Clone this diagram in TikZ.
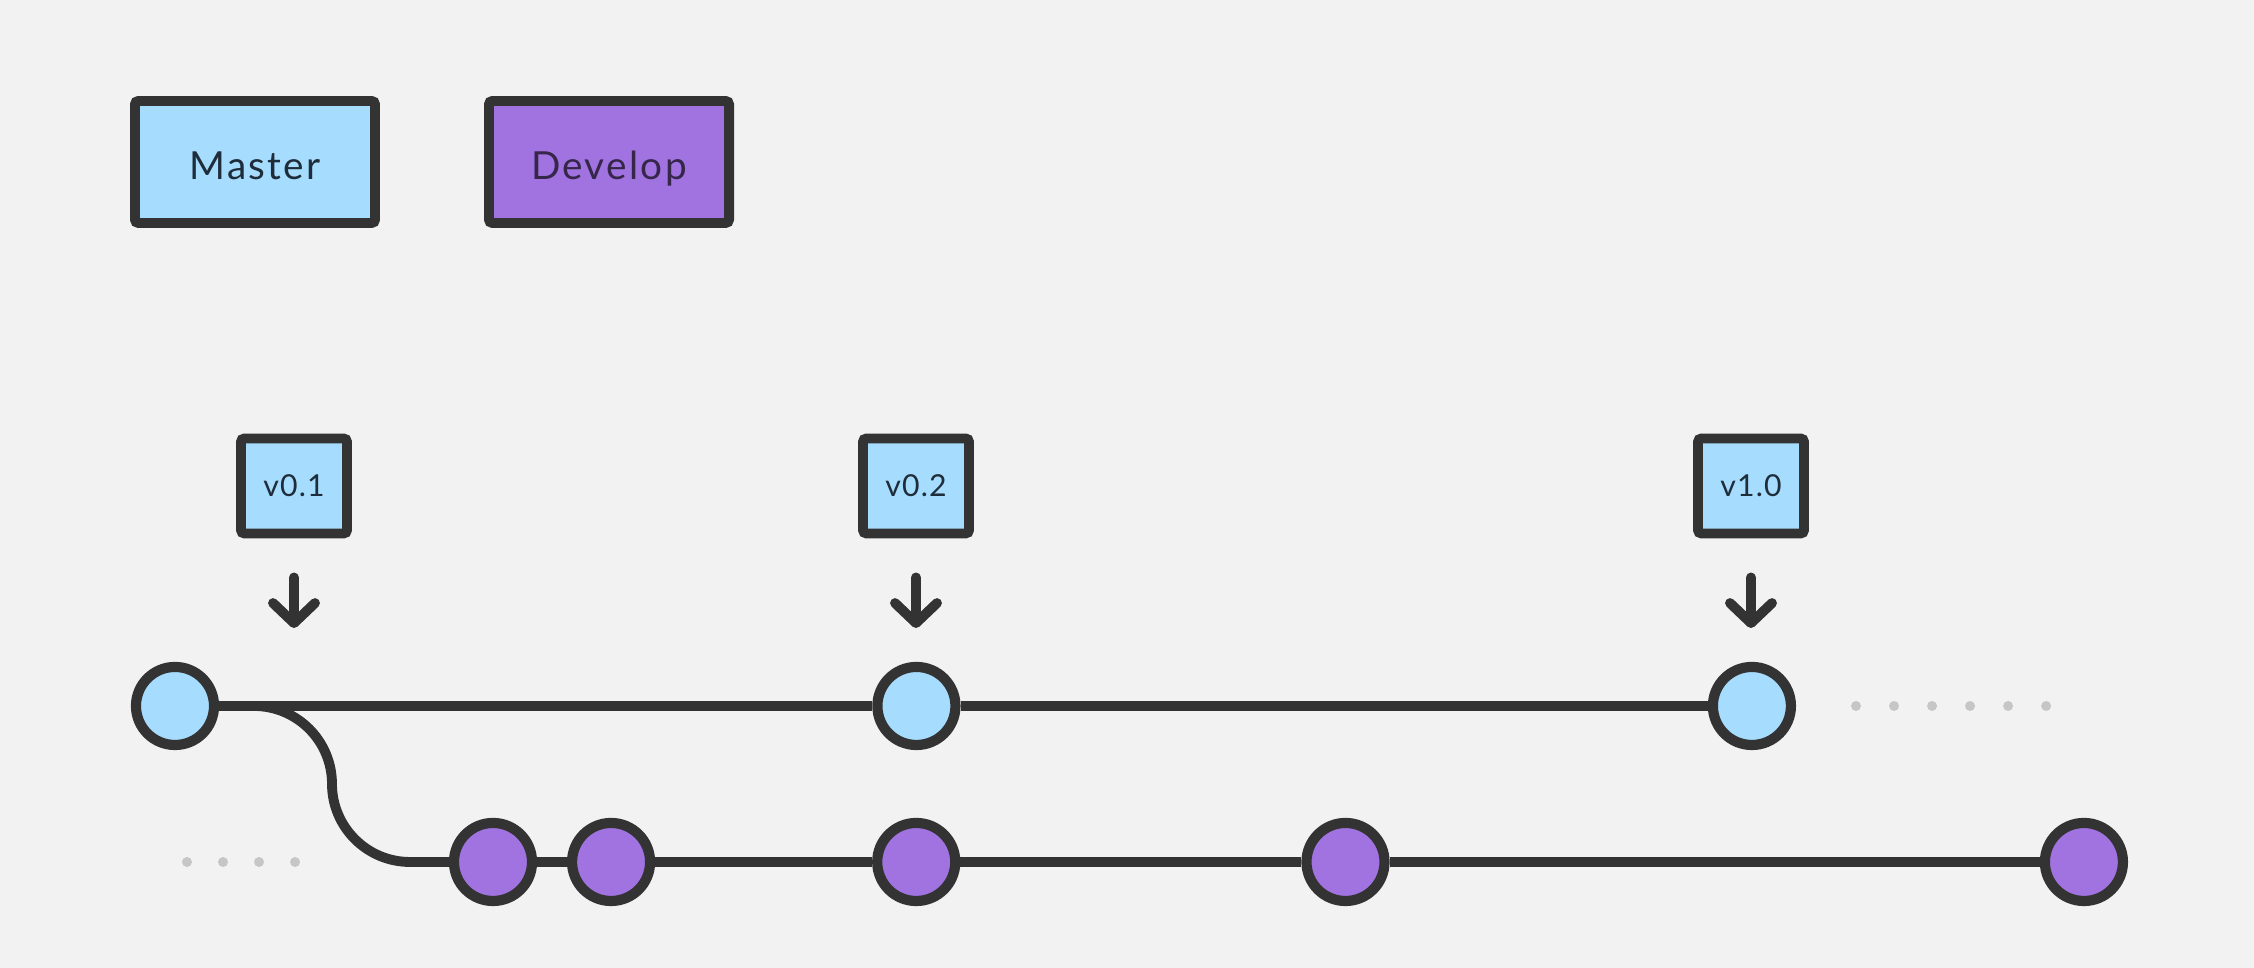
\documentclass[tikz,border=0pt]{standalone}
\usepackage{fontspec}
\setmainfont{Lato}
\newfontfamily\legendfont[LetterSpace=6]{Lato}
\newfontfamily\tagfont[LetterSpace=4]{Lato}
\usepackage{tikz}
\usetikzlibrary{shapes,arrows.meta}
\definecolor{bgray}{HTML}{F2F2F2}
\definecolor{ink}{HTML}{333333}
\definecolor{masterblue}{HTML}{A6DCFE}
\definecolor{developpurple}{HTML}{A073E0}
\definecolor{trailgray}{HTML}{C6C6C6}
\definecolor{bluetext}{HTML}{1F2D3A}
\definecolor{purpletext}{HTML}{36264A}
\tikzstyle{legendbox} = [draw=ink, rectangle, line width=2.8pt, rounded corners=1pt, minimum width=2.4cm, minimum height=1.22cm, text height=9.8pt, text depth=0pt, font=\legendfont\fontsize{11}{13}\selectfont]
\tikzstyle{tagbox} = [draw=ink, rectangle, line width=2.8pt, rounded corners=1pt, fill=masterblue, text=bluetext, minimum width=1.06cm, minimum height=0.95cm, font=\tagfont\fontsize{8.6}{10}\selectfont]
\tikzstyle{commit} = [draw=ink, circle, line width=2.9pt, minimum size=0.78cm, inner sep=0pt]
\tikzstyle{mcommit} = [commit, fill=masterblue]
\tikzstyle{dcommit} = [commit, fill=developpurple]
\tikzstyle{trail} = [circle, fill=trailgray, inner sep=0pt, minimum size=0.1cm]
\tikzstyle{branch} = [draw=ink, line width=2.8pt]
\tikzstyle{pointer} = [draw=ink, line width=2.8pt, line cap=round, shorten <=0.39cm, -{Straight Barb[length=0.2cm, width=0.42cm, round]}]

\begin{document}
\begin{tikzpicture}[x=0.01cm, y=0.01cm]
            \fill [bgray] (0,0) rectangle (2254,968);
            % legend
            \node [legendbox, fill=masterblue, text=bluetext] (master) at (255,806) {Master};
            \node [legendbox, fill=developpurple, text=purpletext] (develop) at (609,806) {Develop};

            % master commits
            \node [mcommit] (m1) at (175,262) {};
            \node [mcommit, right of=m1, node distance=7.41cm] (m2) {};
            \node [mcommit, right of=m2, node distance=8.35cm] (m3) {};

            % develop commits
            \node [dcommit] (d1) at (493,106) {};
            \node [dcommit, right of=d1, node distance=1.18cm] (d2) {};
            \node [dcommit, right of=d2, node distance=3.05cm] (d3) {};
            \node [dcommit, right of=d3, node distance=4.29cm] (d4) {};
            \node [dcommit, right of=d4, node distance=7.38cm] (d5) {};

            % tags
            \node [tagbox] (t1) at (294,482) {v0.1};
            \node [tagbox] (t2) at (916,482) {v0.2};
            \node [tagbox] (t3) at (1751,482) {v1.0};
            \coordinate (p1) at (294,340);
            \coordinate (p2) at (916,340);
            \coordinate (p3) at (1751,340);

            \coordinate (c1) at (332,262);
            \coordinate (c2) at (332,106);

            % trailing dots
            \node [trail] (l1) at (187,106) {};
            \node [trail, right of=l1, node distance=0.36cm] (l2) {};
            \node [trail, right of=l2, node distance=0.36cm] (l3) {};
            \node [trail, right of=l3, node distance=0.36cm] (l4) {};
            \node [trail] (r1) at (1856,262) {};
            \node [trail, right of=r1, node distance=0.38cm] (r2) {};
            \node [trail, right of=r2, node distance=0.38cm] (r3) {};
            \node [trail, right of=r3, node distance=0.38cm] (r4) {};
            \node [trail, right of=r4, node distance=0.38cm] (r5) {};
            \node [trail, right of=r5, node distance=0.38cm] (r6) {};

            \draw [branch] (m1) -- (m2);
            \draw [branch] (m2) -- (m3);
            \draw [branch, rounded corners=0.78cm] (m1) -- (c1) -- (c2) -- (d1);
            \draw [branch] (d1) -- (d2);
            \draw [branch] (d2) -- (d3);
            \draw [branch] (d3) -- (d4);
            \draw [branch] (d4) -- (d5);

            \draw [pointer] (t1) -- (p1);
            \draw [pointer] (t2) -- (p2);
            \draw [pointer] (t3) -- (p3);
\end{tikzpicture}
\end{document}
